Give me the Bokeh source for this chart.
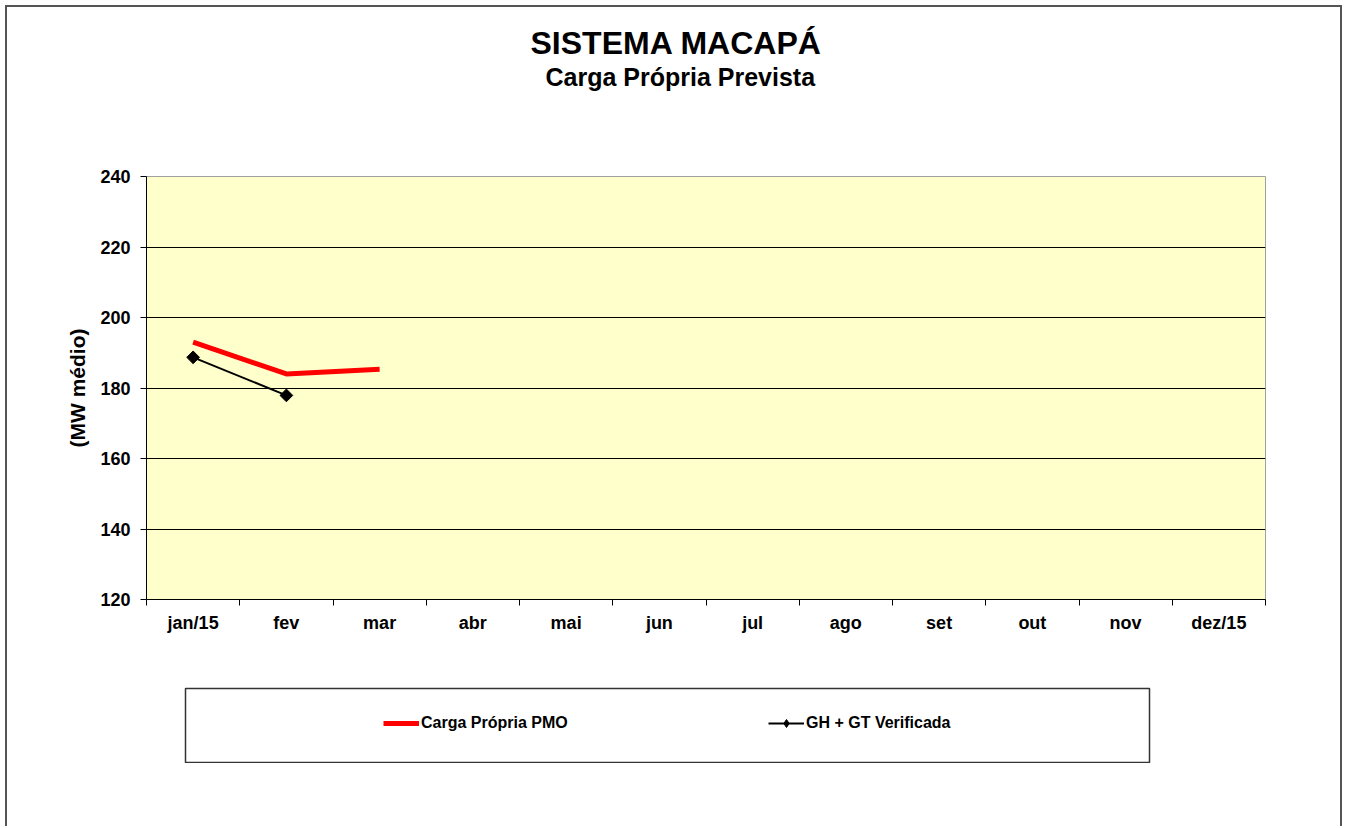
import math
from bokeh.plotting import figure
from bokeh.layouts import column
from bokeh.models import Range1d, FixedTicker, Legend, LegendItem, Title, Spacer
from bokeh.embed import file_html
from bokeh.resources import INLINE

# ---- data ----
months = ["jan/15", "fev", "mar", "abr", "mai", "jun", "jul", "ago", "set", "out", "nov", "dez/15"]
carga_pmo = [193.0, 184.0, 185.3]          # Carga Própria PMO
gh_gt_verificada = [188.7, 177.9]          # GH + GT Verificada
y_ticks = [120, 140, 160, 180, 200, 220, 240]
series_names = ["Carga Própria PMO", "GH + GT Verificada"]
title_text = "SISTEMA MACAPÁ"
subtitle_text = "Carga Própria Prevista"

xs = [i + 0.5 for i in range(len(months))]
bounds = list(range(len(months) + 1))

FONT = "Liberation Sans"
BL, BR = 139, 75   # left/right borders shared by the stacked panels

# ---------------- header (titles) ----------------
hdr = figure(width=1333, height=153, x_range=Range1d(0, 1), y_range=Range1d(0, 1),
             output_backend="svg", toolbar_location=None,
             x_axis_type=None, y_axis_type=None,
             min_border_left=BL, min_border_right=BR, min_border_top=83, min_border_bottom=0,
             outline_line_color=None, background_fill_color="white", border_fill_color="white")
hdr.xgrid.visible = False
hdr.ygrid.visible = False
sub = Title(text=subtitle_text, align="left", offset=399, text_font=FONT,
            text_font_size="25px", text_font_style="bold", text_color="black",
            standoff=0)
hdr.add_layout(sub, "above")
hdr.title.text = title_text
hdr.title.align = "left"
hdr.title.offset = 384
hdr.title.text_font = FONT
hdr.title.text_font_size = "32px"
hdr.title.text_font_style = "bold"
hdr.title.text_color = "black"
hdr.title.standoff = 0

# ---------------- main chart ----------------
p = figure(width=1333, height=527,
           x_range=Range1d(0, len(months)), y_range=Range1d(y_ticks[0], y_ticks[-1]),
           output_backend="svg", toolbar_location=None,
           min_border_left=BL, min_border_right=BR, min_border_top=16, min_border_bottom=88,
           background_fill_color="#FFFFCC", border_fill_color="white",
           outline_line_color="#A0A0A0", outline_line_width=1)

p.xgrid.visible = False
p.ygrid.ticker = FixedTicker(ticks=y_ticks[1:-1])
p.ygrid.grid_line_color = "black"
p.ygrid.grid_line_width = 1

xax = p.below[0]
xax.ticker = FixedTicker(ticks=xs, minor_ticks=bounds)
xax.major_label_overrides = {x: m for x, m in zip(xs, months)}
xax.major_tick_out = 0
xax.major_tick_in = 0
xax.minor_tick_out = 6
xax.minor_tick_in = 0
xax.minor_tick_line_color = "black"
xax.axis_line_color = "black"
xax.major_label_text_font = FONT
xax.major_label_text_font_size = "18px"
xax.major_label_text_font_style = "bold"
xax.major_label_text_color = "black"
xax.major_label_standoff = 7

yax = p.left[0]
yax.ticker = FixedTicker(ticks=y_ticks)
yax.major_tick_out = 6
yax.major_tick_in = 0
yax.minor_tick_line_color = None
yax.axis_line_color = "black"
yax.major_tick_line_color = "black"
yax.major_label_text_font = FONT
yax.major_label_text_font_size = "18px"
yax.major_label_text_font_style = "bold"
yax.major_label_text_color = "black"
yax.major_label_standoff = 10
yax.axis_label = "(MW médio)"
yax.axis_label_text_font = FONT
yax.axis_label_text_font_size = "21px"
yax.axis_label_text_font_style = "bold"
yax.axis_label_text_color = "black"
yax.axis_label_standoff = 8

RED = dict(line_color="#FF0000", line_width=5)
BLK = dict(line_color="black", line_width=2)
MRK = dict(marker="square", size=9, angle=math.pi / 4, fill_color="black", line_color="black")

p.line(xs[:len(carga_pmo)], carga_pmo, **RED)
p.line(xs[:len(gh_gt_verificada)], gh_gt_verificada, **BLK)
p.scatter(xs[:len(gh_gt_verificada)], gh_gt_verificada, **MRK)

# ---------------- legend box ----------------
lg = figure(width=1178, height=76, x_range=Range1d(0, 1), y_range=Range1d(0, 1),
            output_backend="svg", toolbar_location=None,
            x_axis_type=None, y_axis_type=None,
            min_border_left=BL, min_border_right=BR, min_border_top=1, min_border_bottom=1,
            outline_line_color="#333333", outline_line_width=1.5,
            background_fill_color="white", border_fill_color="white",
            margin=(0, 0, 0, 39))
lg.xgrid.visible = False
lg.ygrid.visible = False
# legend keys: same series, drawn outside this box's visible range
k1 = lg.line(xs[:len(carga_pmo)], carga_pmo, **RED)
k2 = lg.line(xs[:len(gh_gt_verificada)], gh_gt_verificada, **BLK)
k3 = lg.scatter(xs[:len(gh_gt_verificada)], gh_gt_verificada, marker="diamond", size=9,
                fill_color="black", line_color="black")
legend = Legend(items=[LegendItem(label=series_names[0], renderers=[k1]),
                       LegendItem(label=series_names[1], renderers=[k2, k3])],
                orientation="horizontal", location=(198, 29),
                padding=0, margin=0, spacing=0,
                glyph_width=36, glyph_height=20, label_width=347, label_height=20,
                label_standoff=2, border_line_color=None, background_fill_alpha=0,
                label_text_font=FONT, label_text_font_size="16px",
                label_text_font_style="bold", label_text_color="black")
lg.add_layout(legend)

layout = column(hdr, p, lg, Spacer(width=10, height=63), margin=(5, 0, 0, 5), spacing=0,
                styles={"border-left": "2px solid #555555",
                        "border-top": "2px solid #555555",
                        "border-right": "2px solid #555555"})

open("out.html", "w").write(file_html(layout, INLINE))
